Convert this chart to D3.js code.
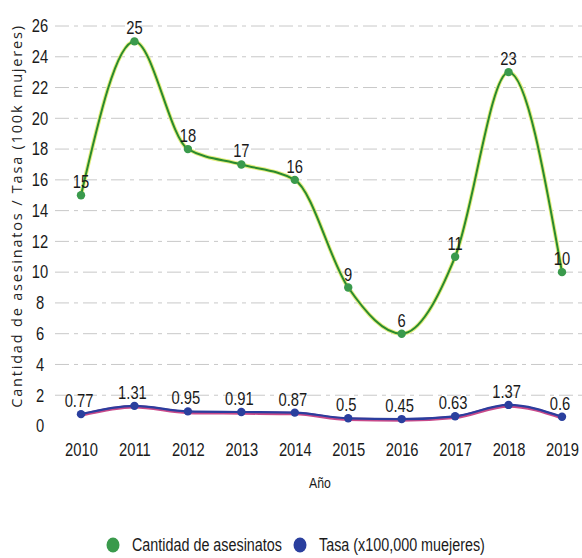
<!DOCTYPE html>
<html><head><meta charset="utf-8">
<script src="https://cdn.jsdelivr.net/npm/d3@7"></script>
<style>
body{margin:0;background:#fff;}
svg{display:block;}
</style></head>
<body><svg id="c" width="582" height="558"></svg>
<script>
const years = ["2010","2011","2012","2013","2014","2015","2016","2017","2018","2019"];
const asesinatos = [15,25,18,17,16,9,6,11,23,10];
const tasa = [0.77,1.31,0.95,0.91,0.87,0.5,0.45,0.63,1.37,0.6];
const yTicks = [0,2,4,6,8,10,12,14,16,18,20,22,24,26];
const seriesNames = ["Cantidad de asesinatos","Tasa (x100,000 muejeres)"];

const svg = d3.select("#c");
const x = d3.scalePoint().domain(years).range([81,562]);
const y = d3.scaleLinear().domain([0,26]).range([426,26]);
const font = "'Liberation Sans',Arial,sans-serif";
const SX = 0.82;

// condensed text helper
function ctext(g, px, py, txt, size, anchor){
  return g.append("text").attr("transform",`translate(${px},${py}) scale(${SX},1)`)
    .attr("text-anchor",anchor||"middle").attr("font-family",font).attr("font-size",size)
    .attr("fill","#1a1a1a").text(txt);
}

// grid
svg.append("g").selectAll("line").data(yTicks.filter(d=>d>0)).join("line")
  .attr("x1",55).attr("x2",582).attr("y1",d=>y(d)).attr("y2",d=>y(d))
  .attr("stroke","#c8c8c8").attr("stroke-width",1).attr("stroke-dasharray","14,5,4,5");

// y axis
const ya = svg.append("g").attr("transform","translate(40,0)")
  .call(d3.axisLeft(y).tickValues(yTicks).tickSize(0).tickPadding(0));
ya.select(".domain").remove();
ya.selectAll("text").attr("font-family",font).attr("font-size",18).attr("fill","#1a1a1a")
  .attr("text-anchor","middle").attr("transform",`scale(${SX},1)`);

// x axis
const xa = svg.append("g").attr("transform","translate(0,450)")
  .call(d3.axisBottom(x).tickSize(0).tickPadding(0));
xa.select(".domain").remove();
xa.selectAll("text").attr("font-family",font).attr("font-size",18).attr("fill","#1a1a1a")
  .attr("dy","0.35em").attr("transform",`scale(${SX},1)`);

ctext(svg, 320, 488, "Año", 15);

svg.append("text").attr("transform","translate(22,216) rotate(-90)").attr("text-anchor","middle")
  .attr("font-family","'Open Sans',sans-serif").attr("font-size",14.5).attr("letter-spacing",1.8).attr("fill","#222")
  .text("Cantidad de asesinatos / Tasa (100k mujeres)");

const line = d3.line().x((d,i)=>x(years[i])).y(d=>y(d)).curve(d3.curveMonotoneX);

// green series
svg.append("path").datum(asesinatos).attr("d",line).attr("fill","none").attr("stroke","#e4ee80").attr("stroke-width",4);
svg.append("path").datum(asesinatos).attr("d",line).attr("fill","none").attr("stroke","#2a8a2e").attr("stroke-width",2);
// blue series
svg.append("path").datum(tasa).attr("d",line).attr("fill","none").attr("stroke","#c84a8a").attr("stroke-width",3.5).attr("transform","translate(0,1)");
svg.append("path").datum(tasa).attr("d",line).attr("fill","none").attr("stroke","#2b3d9e").attr("stroke-width",2.2);

svg.append("g").selectAll("circle").data(asesinatos).join("circle")
  .attr("cx",(d,i)=>x(years[i])).attr("cy",d=>y(d)).attr("r",4.2).attr("fill","#3a9a4c");
svg.append("g").selectAll("circle").data(tasa).join("circle")
  .attr("cx",(d,i)=>x(years[i])).attr("cy",d=>y(d)).attr("r",4.2).attr("fill","#2a3f9e");

const lg = svg.append("g");
asesinatos.forEach((d,i)=>ctext(lg, x(years[i]), y(d)-7, d, 18));
tasa.forEach((d,i)=>ctext(lg, x(years[i])-2, y(d)-7, d, 18));

// legend
const leg = svg.append("g").attr("transform","translate(0,545)");
const lx = [113,300], colors = ["#3a9a4c","#2a3f9e"];
seriesNames.forEach((n,i)=>{
  leg.append("ellipse").attr("cx",lx[i]).attr("cy",0).attr("rx",6.5).attr("ry",7.5).attr("fill",colors[i]);
  ctext(leg, lx[i]+19, 6, n, 17.5, "start");
});
</script></body></html>
